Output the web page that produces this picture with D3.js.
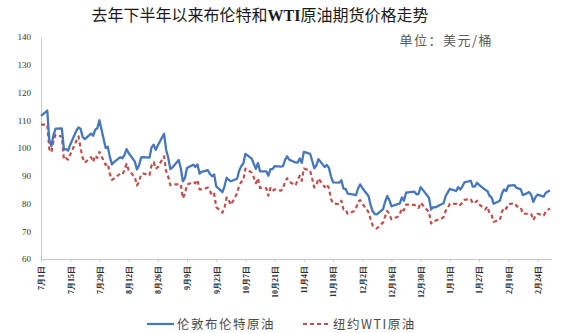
<!DOCTYPE html>
<html>
<head>
<meta charset="utf-8">
<script src="https://cdn.jsdelivr.net/npm/d3@7/dist/d3.min.js"></script>
<style>
  html, body { margin: 0; padding: 0; background: #fff; }
  svg { display: block; }
</style>
</head>
<body>
<svg id="chart" width="568" height="333"></svg>
<script>
// Trading days, 2022-07-01 .. 2023-03-02
const dates = [
  "2022-07-01","2022-07-04","2022-07-05","2022-07-06","2022-07-07","2022-07-08","2022-07-11","2022-07-12","2022-07-13","2022-07-14","2022-07-15","2022-07-18","2022-07-19","2022-07-20","2022-07-21","2022-07-22","2022-07-25","2022-07-26","2022-07-27","2022-07-28","2022-07-29",
  "2022-08-01","2022-08-02","2022-08-03","2022-08-04","2022-08-05","2022-08-08","2022-08-09","2022-08-10","2022-08-11","2022-08-12","2022-08-15","2022-08-16","2022-08-17","2022-08-18","2022-08-19","2022-08-22","2022-08-23","2022-08-24","2022-08-25","2022-08-26","2022-08-29","2022-08-30","2022-08-31",
  "2022-09-01","2022-09-02","2022-09-05","2022-09-06","2022-09-07","2022-09-08","2022-09-09","2022-09-12","2022-09-13","2022-09-14","2022-09-15","2022-09-16","2022-09-19","2022-09-20","2022-09-21","2022-09-22","2022-09-23","2022-09-26","2022-09-27","2022-09-28","2022-09-29","2022-09-30",
  "2022-10-03","2022-10-04","2022-10-05","2022-10-06","2022-10-07","2022-10-10","2022-10-11","2022-10-12","2022-10-13","2022-10-14","2022-10-17","2022-10-18","2022-10-19","2022-10-20","2022-10-21","2022-10-24","2022-10-25","2022-10-26","2022-10-27","2022-10-28","2022-10-31",
  "2022-11-01","2022-11-02","2022-11-03","2022-11-04","2022-11-07","2022-11-08","2022-11-09","2022-11-10","2022-11-11","2022-11-14","2022-11-15","2022-11-16","2022-11-17","2022-11-18","2022-11-21","2022-11-22","2022-11-23","2022-11-24","2022-11-25","2022-11-28","2022-11-29","2022-11-30",
  "2022-12-01","2022-12-02","2022-12-05","2022-12-06","2022-12-07","2022-12-08","2022-12-09","2022-12-12","2022-12-13","2022-12-14","2022-12-15","2022-12-16","2022-12-19","2022-12-20","2022-12-21","2022-12-22","2022-12-23","2022-12-27","2022-12-28","2022-12-29","2022-12-30",
  "2023-01-03","2023-01-04","2023-01-05","2023-01-06","2023-01-09","2023-01-10","2023-01-11","2023-01-12","2023-01-13","2023-01-16","2023-01-17","2023-01-18","2023-01-19","2023-01-20","2023-01-23","2023-01-24","2023-01-25","2023-01-26","2023-01-27","2023-01-30","2023-01-31",
  "2023-02-01","2023-02-02","2023-02-03","2023-02-06","2023-02-07","2023-02-08","2023-02-09","2023-02-10","2023-02-13","2023-02-14","2023-02-15","2023-02-16","2023-02-17","2023-02-20","2023-02-21","2023-02-22","2023-02-23","2023-02-24","2023-02-27","2023-02-28",
  "2023-03-01","2023-03-02"
];

// 伦敦布伦特原油 (USD/bbl)
const brent = [
  111.6,113.5,102.8,100.7,104.7,107.0,107.1,99.5,99.6,99.1,101.2,106.3,107.4,106.9,103.9,103.2,105.2,104.4,106.6,107.1,110.0,
  100.0,100.5,96.8,94.1,94.9,96.7,96.3,97.4,99.6,98.2,95.1,92.3,93.7,96.6,96.7,96.5,100.2,101.2,99.3,101.0,105.1,99.3,96.5,
  92.4,93.0,95.7,92.8,88.0,89.2,92.8,94.0,93.2,94.1,90.8,91.4,92.0,90.6,89.8,90.5,86.2,84.1,86.3,89.3,88.5,88.0,
  88.9,91.8,93.4,94.4,97.9,96.2,94.3,92.5,94.6,91.6,91.6,90.0,92.4,92.4,93.5,93.3,93.5,95.7,97.0,95.8,94.8,
  94.7,96.2,94.7,98.6,97.9,95.4,92.7,93.7,96.0,93.1,93.9,92.9,89.8,87.6,87.5,88.4,85.4,85.3,83.6,83.2,83.0,85.4,
  86.9,85.6,82.7,79.4,77.2,76.2,76.1,78.0,80.7,82.7,81.2,79.0,79.8,80.0,82.2,81.0,83.9,84.3,83.3,83.5,85.9,
  82.1,77.8,78.7,78.6,79.7,80.1,82.7,84.0,85.3,84.5,85.9,85.0,86.2,87.6,88.2,86.1,86.1,87.5,86.7,84.9,84.5,
  82.8,82.2,79.9,81.0,83.7,85.1,84.5,86.4,86.6,85.6,85.4,85.1,83.0,84.1,83.1,80.6,82.2,83.2,82.5,83.9,
  84.3,84.8
];

// 纽约WTI原油 (USD/bbl)
const wti = [
  108.4,108.4,99.5,98.5,102.7,104.8,104.1,95.8,96.3,95.8,97.6,102.6,104.2,99.9,96.4,94.7,96.7,95.0,97.3,96.4,98.6,
  93.9,94.4,90.7,88.5,89.0,90.8,90.5,91.9,94.3,92.1,89.4,86.5,87.9,90.5,90.8,90.2,93.7,94.9,92.5,93.1,97.0,91.6,89.6,
  86.6,86.9,86.9,86.9,81.9,83.5,86.8,87.8,87.3,88.5,85.1,85.1,85.7,84.5,82.9,83.5,78.7,76.7,78.5,82.2,81.2,79.5,
  83.6,86.5,87.8,88.5,92.6,91.1,89.4,87.3,89.1,85.6,85.5,82.8,85.6,84.5,85.1,84.6,85.3,87.9,89.1,87.9,86.5,
  88.4,90.0,88.2,92.6,91.8,88.9,85.8,86.5,89.0,85.9,86.9,85.6,81.6,80.1,79.7,81.0,77.9,77.9,76.3,77.2,78.2,80.6,
  81.2,80.0,76.9,74.3,72.0,71.5,71.0,73.2,75.4,77.3,76.1,74.3,75.2,76.1,78.3,77.5,79.6,79.5,79.0,78.4,80.3,
  76.9,72.8,73.7,73.8,74.6,75.1,77.4,78.4,79.9,79.9,80.2,79.5,80.3,81.3,81.6,80.1,80.2,81.0,79.7,77.9,78.9,
  76.4,75.9,73.4,74.1,77.1,78.5,78.1,79.7,80.1,79.1,78.6,78.5,76.3,76.3,76.2,74.0,75.4,76.3,75.7,77.1,
  77.7,78.2
];

// Y-axis tick values and x-axis label dates
const yTicks = [60, 70, 80, 90, 100, 110, 120, 130, 140];
const xTickDates = [
  "2022-07-01","2022-07-15","2022-07-29","2022-08-12","2022-08-26","2022-09-09","2022-09-23",
  "2022-10-07","2022-10-21","2022-11-04","2022-11-18","2022-12-02","2022-12-16","2022-12-30",
  "2023-01-13","2023-01-27","2023-02-10","2023-02-24"
];

const parse = d3.timeParse("%Y-%m-%d");
const days = dates.map(parse);

const svg = d3.select("#chart");
const cjk = "'Noto Sans CJK SC', 'Noto Sans', sans-serif";
const serif = "'Liberation Serif', 'DejaVu Serif', serif";

const x = d3.scaleTime()
  .domain([parse("2022-07-01"), parse("2023-03-02")])
  .range([41, 550]);
const y = d3.scaleLinear().domain([60, 140]).range([259, 37]);

// Title
const title = svg.append("text")
  .attr("x", 260).attr("y", 21)
  .attr("text-anchor", "middle")
  .attr("font-size", 16)
  .attr("fill", "#1a1a1a")
  .style("font-family", cjk);
title.append("tspan").text("去年下半年以来布伦特和");
title.append("tspan").text("WTI").style("font-family", serif).attr("font-weight", "bold");
title.append("tspan").text("原油期货价格走势");

// Unit label
svg.append("text")
  .attr("x", 493).attr("y", 45)
  .attr("text-anchor", "end")
  .attr("font-size", 13)
  .attr("letter-spacing", 1.5)
  .attr("fill", "#595959")
  .style("font-family", cjk)
  .text("单位：美元/桶");

// Y axis
const yAxis = svg.append("g")
  .attr("transform", "translate(41,0)")
  .call(d3.axisLeft(y).tickValues(yTicks).tickSize(0).tickPadding(10).tickFormat(d3.format("d")));
yAxis.select(".domain").attr("stroke", "#c8c8c8");
yAxis.selectAll("text")
  .attr("fill", "#333")
  .attr("font-size", 9)
  .style("font-family", serif);

// X axis
const xAxis = svg.append("g")
  .attr("transform", "translate(0,259)")
  .call(d3.axisBottom(x)
    .tickValues(xTickDates.map(parse))
    .tickSize(3)
    .tickSizeOuter(0)
    .tickFormat(d => (d.getMonth() + 1) + "月" + d.getDate() + "日"));
xAxis.select(".domain").attr("stroke", "#c8c8c8").attr("d", "M41,0.5H552");
xAxis.selectAll(".tick line").attr("stroke", "#c8c8c8");
xAxis.selectAll("text")
  .attr("fill", "#2a2a2a")
  .attr("font-size", 8)
  .attr("font-weight", "bold")
  .style("font-family", serif)
  .attr("text-anchor", "end")
  .attr("transform", "rotate(-90)")
  .attr("x", -7)
  .attr("y", 0)
  .attr("dy", "0.35em");

// Lines
const line = vals => d3.line()
  .x((d, i) => x(days[i]))
  .y(d => y(d))(vals);

svg.append("path")
  .attr("d", line(wti))
  .attr("fill", "none")
  .attr("stroke", "#C0504D")
  .attr("stroke-width", 2.2)
  .attr("stroke-dasharray", "4,3")
  .attr("stroke-linejoin", "round");

svg.append("path")
  .attr("d", line(brent))
  .attr("fill", "none")
  .attr("stroke", "#4677BE")
  .attr("stroke-width", 2.3)
  .attr("stroke-linejoin", "round");

// Legend
const legend = [
  { name: "伦敦布伦特原油", color: "#4677BE", dash: null, x0: 147 },
  { name: "纽约WTI原油", color: "#C0504D", dash: "4,3", x0: 303 }
];
legend.forEach(l => {
  svg.append("line")
    .attr("x1", l.x0).attr("x2", l.x0 + 27)
    .attr("y1", 324).attr("y2", 324)
    .attr("stroke", l.color)
    .attr("stroke-width", 2.2)
    .attr("stroke-dasharray", l.dash);
  svg.append("text")
    .attr("x", l.x0 + 30).attr("y", 329)
    .attr("font-size", 12.5)
    .attr("letter-spacing", 1.5)
    .attr("fill", "#4a4a4a")
    .style("font-family", cjk)
    .text(l.name);
});
</script>
</body>
</html>
